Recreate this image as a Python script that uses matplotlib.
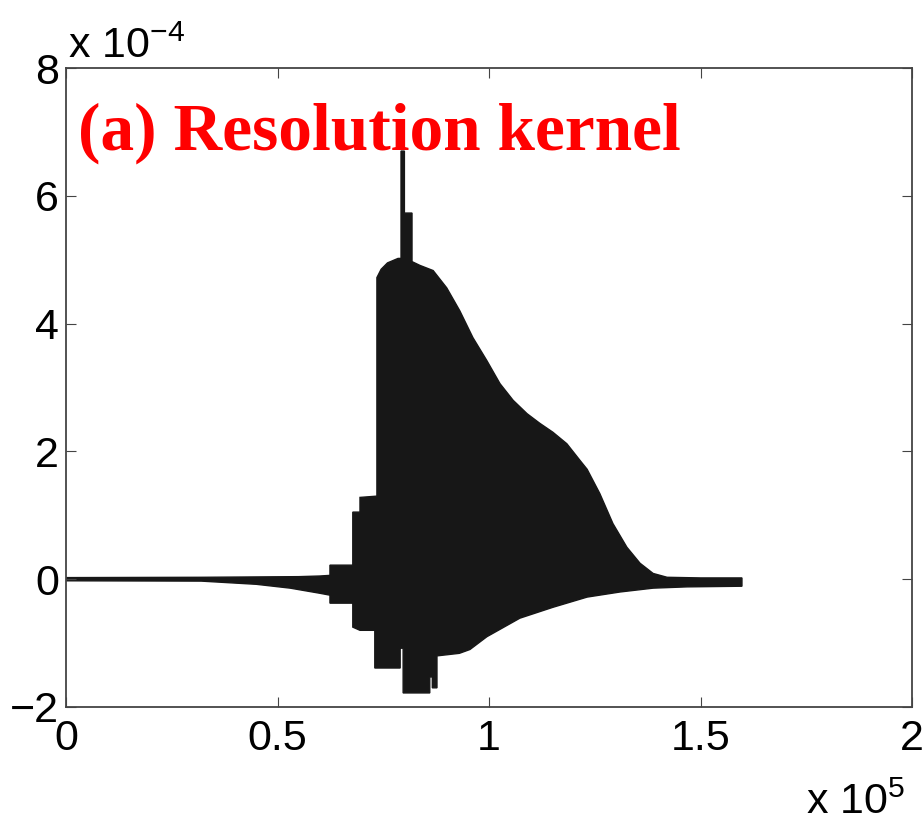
import matplotlib
matplotlib.use("Agg")
import matplotlib.pyplot as plt
import numpy as np

plt.rcParams['font.family'] = ['Liberation Sans', 'DejaVu Sans']
plt.rcParams['mathtext.default'] = 'regular'

# envelope of the resolution kernel (x in 1e5, y in 1e-4)
x_upper = [0, 0.32, 0.55, 0.60, 0.624, 0.624, 0.678, 0.678, 0.695, 0.695,
           0.735, 0.735, 0.745, 0.76, 0.785, 0.792, 0.792, 0.800, 0.800,
           0.818, 0.818, 0.837, 0.868, 0.90, 0.931, 0.962, 0.995, 1.026,
           1.057, 1.09, 1.12, 1.151, 1.184, 1.215, 1.232, 1.262, 1.293,
           1.326, 1.357, 1.388, 1.421, 1.50, 1.598]
y_upper = [0.025, 0.03, 0.04, 0.05, 0.06, 0.22, 0.22, 1.05, 1.05, 1.28,
           1.30, 4.72, 4.85, 4.95, 5.02, 5.02, 6.7, 6.7, 5.73,
           5.73, 4.97, 4.91, 4.83, 4.56, 4.2, 3.78, 3.42, 3.06,
           2.8, 2.59, 2.44, 2.3, 2.12, 1.86, 1.72, 1.34, 0.87,
           0.5, 0.25, 0.09, 0.03, 0.02, 0.02]

x_lower = [0, 0.32, 0.45, 0.53, 0.60, 0.624, 0.624, 0.678, 0.678, 0.695,
           0.73, 0.73, 0.79, 0.79, 0.797, 0.797, 0.86, 0.86, 0.866, 0.866,
           0.877, 0.877, 0.93, 0.955, 0.995, 1.073, 1.151, 1.232, 1.31,
           1.388, 1.468, 1.598]
y_lower = [-0.025, -0.03, -0.08, -0.14, -0.22, -0.25, -0.375, -0.375, -0.75, -0.8,
           -0.8, -1.39, -1.39, -1.08, -1.08, -1.78, -1.78, -1.53, -1.53, -1.70,
           -1.70, -1.2, -1.16, -1.1, -0.9, -0.61, -0.44, -0.28, -0.2,
           -0.14, -0.12, -0.11]

xticks = [0, 0.5, 1, 1.5, 2]
xtick_labels = ['0', '0.5', '1', '1.5', '2']
yticks = [-2, 0, 2, 4, 6, 8]
ytick_labels = ['\u22122', '0', '2', '4', '6', '8']

W, H = 922, 824
fig = plt.figure(figsize=(W / 100, H / 100), dpi=100)
ax = fig.add_axes([66 / W, 1 - 707 / H, (912 - 66) / W, (707 - 68) / H])

# polygon: upper envelope left->right, then lower envelope right->left
poly_x = np.concatenate([x_upper, x_lower[::-1]])
poly_y = np.concatenate([y_upper, y_lower[::-1]])
ax.fill(poly_x, poly_y, color='#171717', lw=1.0, ec='#171717')

ax.set_xlim(0, 2)
ax.set_ylim(-2, 8)
ax.set_xticks(xticks)
ax.set_xticklabels(xtick_labels)
ax.set_yticks(yticks)
ax.set_yticklabels(ytick_labels)
ax.tick_params(direction='in', length=7, width=0.8, color='#444444',
               top=True, right=True, labelsize=31)
ax.tick_params(axis='y', pad=5)
ax.tick_params(axis='x', pad=9)
for sp in ax.spines.values():
    sp.set_color('#444444')
    sp.set_linewidth(1.3)

fig.text(78 / W, 1 - 150 / H, '(a) Resolution kernel', color='#ff0000',
         fontsize=48.5, fontweight='bold', family='Liberation Serif',
         ha='left', va='baseline')

fig.text(68 / W, 1 - 58 / H, 'x 10$^{-4}$', fontsize=31,
         ha='left', va='baseline')
fig.text(806 / W, 1 - 814 / H, 'x 10$^{5}$', fontsize=31,
         ha='left', va='baseline')

fig.savefig('out.png', dpi=100)
